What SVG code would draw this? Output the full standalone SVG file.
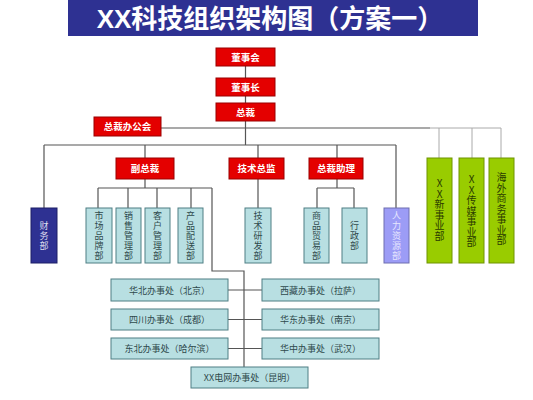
<svg xmlns="http://www.w3.org/2000/svg" width="533" height="400" viewBox="0 0 533 400">
<style>
.red{fill:#E40000;stroke:#9A0000;stroke-width:1}
.rt{fill:#fff;font-family:"Noto Sans CJK SC",sans-serif;font-size:9.5px;font-weight:bold;text-anchor:middle}
.lb{fill:#B8DFE2;stroke:#4F7F84;stroke-width:1}
.vt{fill:#2F4A4C;font-family:"Noto Sans CJK SC",sans-serif;font-size:9px;letter-spacing:1px;text-anchor:middle;writing-mode:vertical-rl;text-orientation:upright}
.gr{fill:#99CC00;stroke:#6E9400;stroke-width:1}
.gt{fill:#2A3A00;font-family:"Noto Sans CJK SC",sans-serif;font-size:10px;letter-spacing:0.5px;text-anchor:middle;writing-mode:vertical-rl;text-orientation:upright}
.ot{fill:#2F4A4C;font-family:"Noto Sans CJK SC",sans-serif;font-size:9px;text-anchor:middle}
.ln{stroke:#555;stroke-width:1.2;fill:none}
.lg{stroke:#AAA;stroke-width:1;fill:none}
</style>
<rect width="533" height="400" fill="#fff"/>
<g id="title">
<rect x="68" y="0" width="410" height="36" fill="#2E3192"/>
<text x="270" y="28" fill="#fff" font-family="'Liberation Sans','Noto Sans CJK SC',sans-serif" font-size="26" font-weight="bold" text-anchor="middle">XX科技组织架构图（方案一）</text>
</g>
<g id="connectors">
<path class="ln" d="M245.5 66V78M245.5 96V103M245.5 121V145M161 128H430M44 145H396M44 145V208M145 145V158M258 145V208M337 145V158M396 145V208M145 179V188M98 188H212M98 188V208M128 188V208M157 188V208M191 188V208M212 188V271H244V367M337 179V188M317 188H354M317 188V208M354 188V208M228 290H262M228 319.5H262M228 348.5H262"/>
<path class="lg" d="M430 128H501M439 128V158M472 128V158M501 128V158"/>
</g>
<g id="n-dongshihui"><rect class="red" x="216" y="48" width="59" height="18"/><text class="rt" x="245.5" y="60.5">董事会</text></g>
<g id="n-dongshizhang"><rect class="red" x="216" y="78" width="59" height="18"/><text class="rt" x="245.5" y="90.5">董事长</text></g>
<g id="n-zongcai"><rect class="red" x="216" y="103" width="59" height="18"/><text class="rt" x="245.5" y="115.5">总裁</text></g>
<g id="n-zongcaiban"><rect class="red" x="94" y="117" width="67" height="19"/><text class="rt" x="127.5" y="130">总裁办公会</text></g>
<g id="n-fuzongcai"><rect class="red" x="116" y="158" width="58" height="21"/><text class="rt" x="145" y="172">副总裁</text></g>
<g id="n-jishuzongjian"><rect class="red" x="229" y="158" width="55" height="21"/><text class="rt" x="256.5" y="172">技术总监</text></g>
<g id="n-zongcaizhuli"><rect class="red" x="309" y="158" width="54" height="21"/><text class="rt" x="336" y="172">总裁助理</text></g>
<g id="n-caiwu"><rect x="31" y="208" width="26" height="55" fill="#2E3192" stroke="#1C1E66"/><text class="vt" style="fill:#DDDDEE" x="44" y="236">财务部</text></g>
<g id="n-shichang"><rect class="lb" x="86" y="208" width="26" height="55"/><text class="vt" x="99" y="236">市场品牌部</text></g>
<g id="n-xiaoshou"><rect class="lb" x="116" y="208" width="25" height="55"/><text class="vt" x="128.5" y="236">销售管理部</text></g>
<g id="n-kehu"><rect class="lb" x="145" y="208" width="25" height="55"/><text class="vt" x="157.5" y="236">客户管理部</text></g>
<g id="n-chanpin"><rect class="lb" x="178" y="208" width="25" height="55"/><text class="vt" x="190.5" y="236">产品配送部</text></g>
<g id="n-jishuyanfa"><rect class="lb" x="245" y="208" width="26" height="55"/><text class="vt" x="258" y="236">技术研发部</text></g>
<g id="n-shangpin"><rect class="lb" x="304" y="208" width="25" height="55"/><text class="vt" x="316.5" y="236">商品贸易部</text></g>
<g id="n-xingzheng"><rect class="lb" x="342" y="208" width="25" height="55"/><text class="vt" x="354.5" y="236">行政部</text></g>
<g id="n-renli"><rect x="384" y="208" width="25" height="55" fill="#9C9CF6" stroke="#6E6EB0"/><text class="vt" style="fill:#E6E6FF" x="396.5" y="236">人力资源部</text></g>
<g id="n-xinshiye"><rect class="gr" x="427" y="158" width="25" height="105"/><text class="gt" x="439.5" y="210">XX新事业部</text></g>
<g id="n-chuanmei"><rect class="gr" x="459" y="158" width="25" height="105"/><text class="gt" x="471.5" y="211">XX传媒事业部</text></g>
<g id="n-haiwai"><rect class="gr" x="489" y="158" width="25" height="105"/><text class="gt" x="501.5" y="209">海外商务事业部</text></g>
<g id="n-huabei"><rect class="lb" x="111" y="279" width="117" height="22"/><text class="ot" x="169.5" y="293.5">华北办事处（北京）</text></g>
<g id="n-sichuan"><rect class="lb" x="111" y="309" width="117" height="21"/><text class="ot" x="169.5" y="323">四川办事处（成都）</text></g>
<g id="n-dongbei"><rect class="lb" x="111" y="338" width="117" height="21"/><text class="ot" x="169.5" y="352">东北办事处（哈尔滨）</text></g>
<g id="n-xizang"><rect class="lb" x="262" y="279" width="117" height="22"/><text class="ot" x="320.5" y="293.5">西藏办事处（拉萨）</text></g>
<g id="n-huadong"><rect class="lb" x="262" y="309" width="117" height="21"/><text class="ot" x="320.5" y="323">华东办事处（南京）</text></g>
<g id="n-huazhong"><rect class="lb" x="262" y="338" width="117" height="21"/><text class="ot" x="320.5" y="352">华中办事处（武汉）</text></g>
<g id="n-dianwang"><rect class="lb" x="191" y="367" width="117" height="21"/><text class="ot" x="249.5" y="381">XX电网办事处（昆明）</text></g>
</svg>
